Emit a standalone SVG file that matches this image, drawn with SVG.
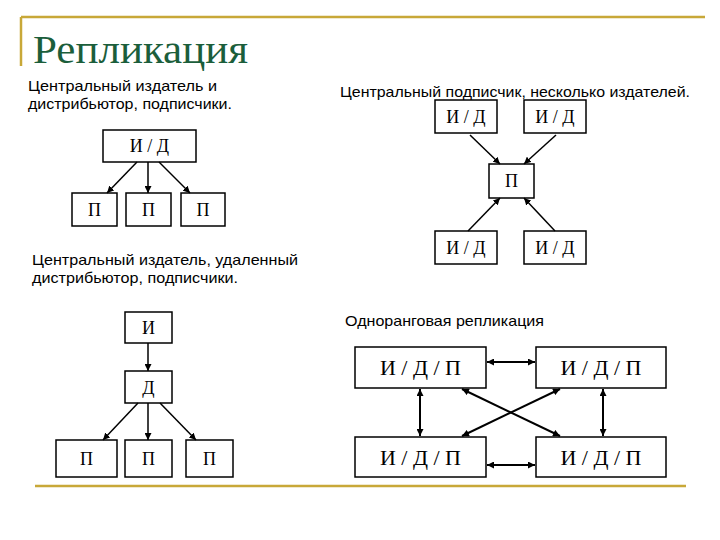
<svg xmlns="http://www.w3.org/2000/svg" width="720" height="540" viewBox="0 0 720 540">
<style>
.b{fill:#fff;stroke:#000;stroke-width:1.5}
.t{font-family:"Liberation Serif",serif;font-size:18px;text-anchor:middle}
.t2{font-family:"Liberation Serif",serif;font-size:22px;text-anchor:middle}
.s{font-family:"Liberation Sans",sans-serif;font-size:14.5px}
.h{font-family:"Liberation Serif","DejaVu Serif",serif;font-size:40px;fill:#1b5e3b}
.c line{stroke:#000;stroke-width:1.5}
.a line{marker-end:url(#ah)}
.d line{marker-start:url(#ah2);marker-end:url(#ah);stroke-width:2}
</style>
<defs>
<marker id="ah" viewBox="0 0 10 10" refX="10" refY="5" markerWidth="7" markerHeight="7" markerUnits="userSpaceOnUse" orient="auto"><path d="M0,0L10,5L0,10z"/></marker>
<marker id="ah2" viewBox="0 0 10 10" refX="0" refY="5" markerWidth="7" markerHeight="7" markerUnits="userSpaceOnUse" orient="auto"><path d="M10,0L0,5L10,10z"/></marker>
</defs>
<rect width="720" height="540" fill="#fff"/>
<g id="frame" stroke="#c8a838" stroke-width="2.5">
<line x1="21" y1="17" x2="705" y2="17"/><line x1="21" y1="17" x2="21" y2="66"/><line x1="35" y1="486" x2="686" y2="486"/>
</g>
<text class="h" x="33" y="63" textLength="215" lengthAdjust="spacingAndGlyphs">Репликация</text>
<g class="s">
<text x="28" y="91" textLength="189" lengthAdjust="spacingAndGlyphs">Центральный издатель и</text>
<text x="28" y="109" textLength="204" lengthAdjust="spacingAndGlyphs">дистрибьютор, подписчики.</text>
<text x="340" y="97" textLength="350" lengthAdjust="spacingAndGlyphs">Центральный подписчик, несколько издателей.</text>
<text x="32" y="265" textLength="266" lengthAdjust="spacingAndGlyphs">Центральный издатель, удаленный</text>
<text x="32" y="283" textLength="206" lengthAdjust="spacingAndGlyphs">дистрибьютор, подписчики.</text>
<text x="345" y="326" textLength="199" lengthAdjust="spacingAndGlyphs">Одноранговая репликация</text>
</g>
<g id="d1">
<g id="d1n0"><rect class="b" x="103" y="130" width="93" height="32"/><text class="t" x="149.5" y="152">И / Д</text></g>
<g id="d1n1"><rect class="b" x="72" y="193" width="45" height="33"/><text class="t" x="94.5" y="216">П</text></g>
<g id="d1n2"><rect class="b" x="126" y="193" width="45" height="33"/><text class="t" x="148.5" y="216">П</text></g>
<g id="d1n3"><rect class="b" x="181" y="193" width="44" height="33"/><text class="t" x="203" y="216">П</text></g>
</g>
<g id="d2">
<g id="d2n1"><rect class="b" x="435" y="100" width="62" height="33"/><text class="t" x="466" y="123">И / Д</text></g>
<g id="d2n2"><rect class="b" x="524" y="100" width="62" height="33"/><text class="t" x="555" y="123">И / Д</text></g>
<g id="d2n0"><rect class="b" x="489" y="164" width="45" height="34"/><text class="t" x="511.5" y="187">П</text></g>
<g id="d2n3"><rect class="b" x="435" y="231" width="62" height="33"/><text class="t" x="466" y="254">И / Д</text></g>
<g id="d2n4"><rect class="b" x="524" y="231" width="62" height="33"/><text class="t" x="555" y="254">И / Д</text></g>
</g>
<g id="d3">
<g id="d3n0"><rect class="b" x="125" y="312" width="47" height="31"/><text class="t" x="148.5" y="334">И</text></g>
<g id="d3n1"><rect class="b" x="125" y="371" width="47" height="32"/><text class="t" x="148.5" y="394">Д</text></g>
<g id="d3n2"><rect class="b" x="56" y="440" width="61" height="37"/><text class="t" x="86.5" y="465">П</text></g>
<g id="d3n3"><rect class="b" x="125" y="440" width="47" height="37"/><text class="t" x="148.5" y="465">П</text></g>
<g id="d3n4"><rect class="b" x="186" y="440" width="47" height="37"/><text class="t" x="209.5" y="465">П</text></g>
</g>
<g id="d4">
<g id="d4n1"><rect class="b" x="355" y="347" width="131" height="41"/><text class="t2" x="420.5" y="375">И / Д / П</text></g>
<g id="d4n2"><rect class="b" x="536" y="347" width="130" height="41"/><text class="t2" x="601" y="375">И / Д / П</text></g>
<g id="d4n3"><rect class="b" x="355" y="437" width="131" height="40"/><text class="t2" x="420.5" y="465">И / Д / П</text></g>
<g id="d4n4"><rect class="b" x="536" y="437" width="130" height="40"/><text class="t2" x="601" y="465">И / Д / П</text></g>
</g>
<g id="connectors" class="c">
<g class="a">
<line x1="137" y1="162" x2="107" y2="193"/><line x1="148" y1="162" x2="148" y2="193"/><line x1="159" y1="162" x2="190" y2="193"/>
<line x1="470" y1="135" x2="500" y2="164"/><line x1="556" y1="135" x2="524" y2="164"/>
<line x1="468" y1="231" x2="500" y2="198"/><line x1="555" y1="231" x2="524" y2="198"/>
<line x1="148" y1="343" x2="148" y2="371"/>
<line x1="138" y1="403" x2="103" y2="440"/><line x1="148" y1="403" x2="148" y2="440"/><line x1="160" y1="403" x2="196" y2="440"/>
</g>
<g class="d">
<line x1="487" y1="362" x2="535" y2="362"/><line x1="487" y1="465" x2="535" y2="465"/>
<line x1="420" y1="389" x2="420" y2="436"/><line x1="603" y1="389" x2="603" y2="436"/>
<line x1="462" y1="389" x2="560" y2="436"/><line x1="560" y1="389" x2="462" y2="436"/>
</g>
</g>
</svg>
